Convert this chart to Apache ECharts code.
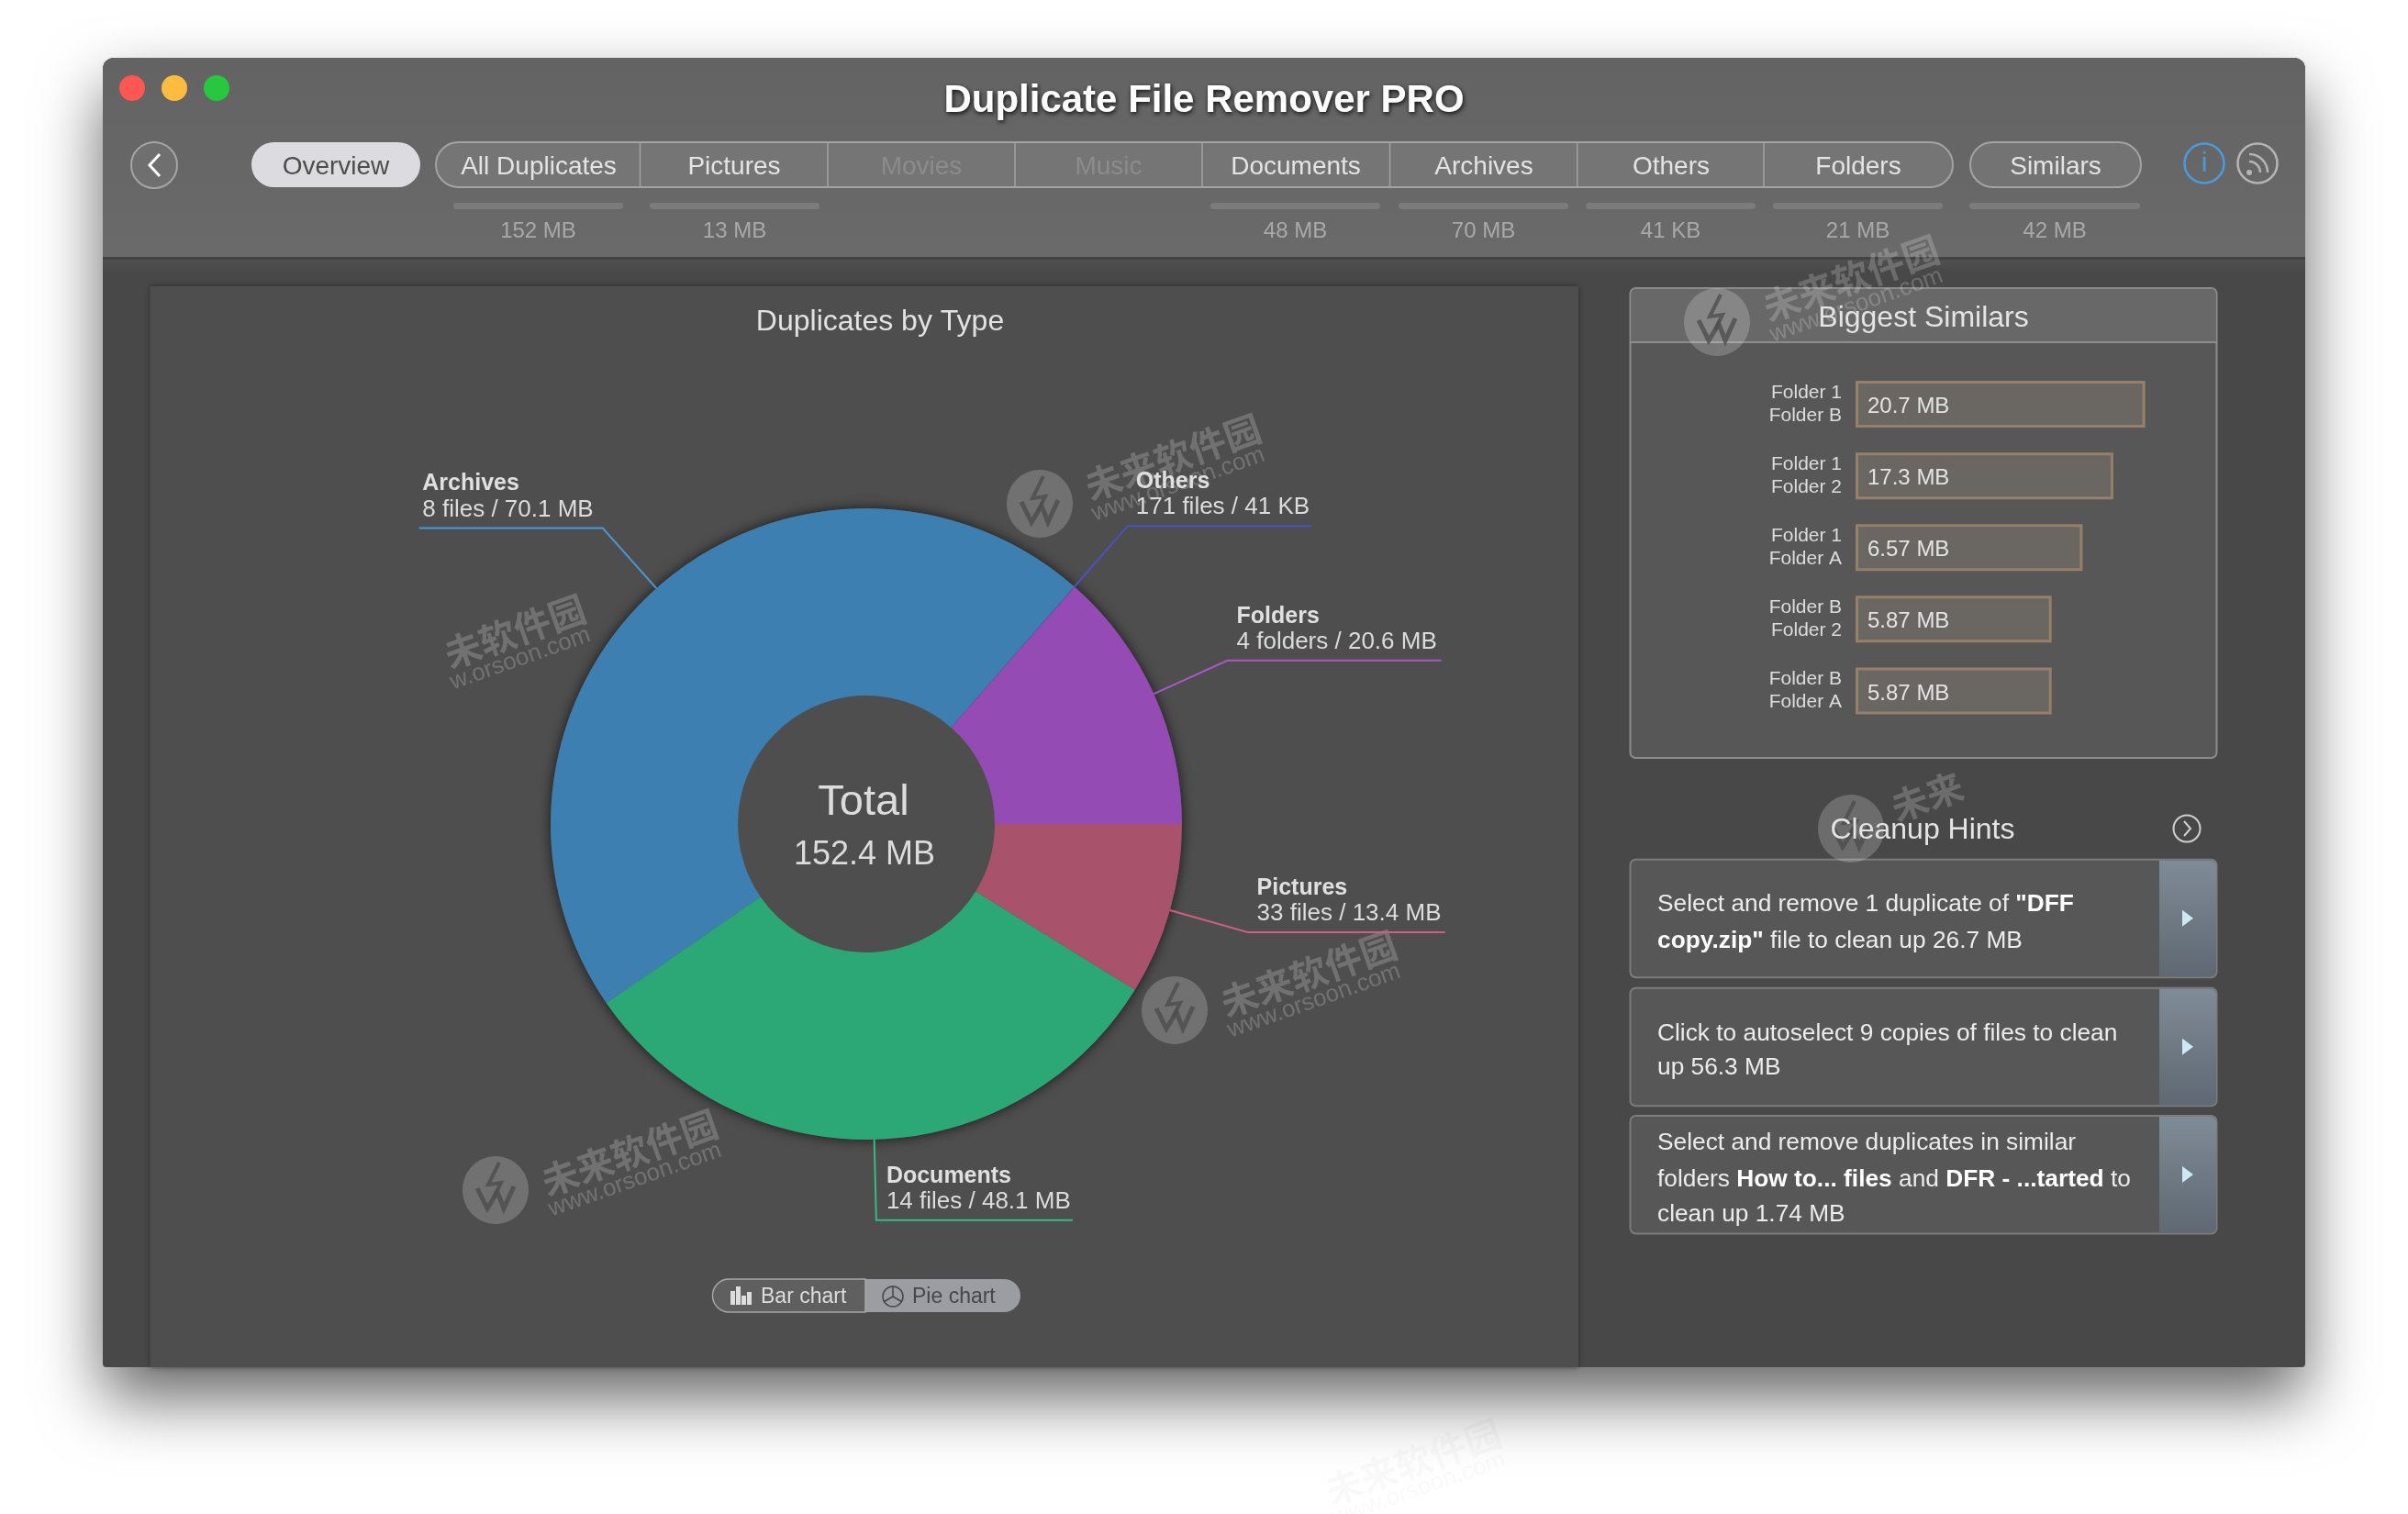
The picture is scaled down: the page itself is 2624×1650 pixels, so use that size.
<!DOCTYPE html>
<html>
<head>
<meta charset="utf-8">
<title>Duplicate File Remover PRO</title>
<script src="https://cdn.jsdelivr.net/npm/echarts@6/dist/echarts.min.js"></script>
<style>
html,body{margin:0;padding:0;background:#fff;}
#main{width:2624px;height:1650px;}
</style>
</head>
<body>
<div id="main"></div>
<script>
// pie: counter clockwise from east, same order as the app draws it
var typeNames = ['Folders', 'Others', 'Archives', 'Documents', 'Pictures'];
var typeSizes = [20.6, 0.041, 70.1, 48.1, 13.4];
var typeDetails = ['4 folders / 20.6 MB', '171 files / 41 KB', '8 files / 70.1 MB', '14 files / 48.1 MB', '33 files / 13.4 MB'];

// biggest similars, bar length is relative to the longest bar (not proportional to MB in the app)
var similarPairs = ['Folder 1\nFolder B', 'Folder 1\nFolder 2', 'Folder 1\nFolder A', 'Folder B\nFolder 2', 'Folder B\nFolder A'];
var similarSizes = ['20.7 MB', '17.3 MB', '6.57 MB', '5.87 MB', '5.87 MB'];
var similarBarLengths = [100, 89, 78.4, 67.7, 67.7];

// toolbar
var tabNames = ['All Duplicates', 'Pictures', 'Movies', 'Music', 'Documents', 'Archives', 'Others', 'Folders'];
var tabSizes = ['152 MB', '13 MB', '', '', '48 MB', '70 MB', '41 KB', '21 MB'];
var similarsSize = '42 MB';

var hintLines = [
	['Select and remove 1 duplicate of {b|"DFF}', '{b|copy.zip"} file to clean up 26.7 MB'],
	['Click to autoselect 9 copies of files to clean', 'up 56.3 MB'],
	['Select and remove duplicates in similar', 'folders {b|How to... files} and {b|DFR - ...tarted} to', 'clean up 1.74 MB']
];

// colours and leader lines, same order as typeNames
var typeColors = ['#944bb3', '#4b4fc0', '#3e7fb1', '#2ca876', '#a8526b'];
var leaderColors = ['#a858c8', '#4b52c8', '#4a9ad8', '#36bb86', '#cf5f80'];
var leaderLengths = [233, 200, 200, 214, 215];
var leaderTextGaps = [-223, -191, -190, -203, -205];

var FONT = '"Liberation Sans", Arial, sans-serif';
var g = [];

function rect(x, y, w, h, fill, extra) {
	var style = {fill: fill};
	var e = extra || {};
	for (var k in e) { if (k != 'r' && k != 'z') style[k] = e[k]; }
	g.push({type: 'rect', z: e.z || 0, silent: true, shape: {x: x, y: y, width: w, height: h, r: e.r || 0}, style: style});
}
function text(x, y, str, size, color, extra) {
	var style = {text: str, x: x, y: y, fill: color, font: (extra && extra.weight || 'normal') + ' ' + size + 'px ' + FONT,
		textAlign: 'center', textVerticalAlign: 'middle'};
	var e = extra || {};
	for (var k in e) { if (k != 'weight' && k != 'z' && k != 'rotation') style[k] = e[k]; }
	g.push({type: 'text', z: e.z || 1, silent: true, x: 0, y: 0, style: style});
}
function circle(cx, cy, r, fill, stroke, lw, z) {
	g.push({type: 'circle', z: z || 1, silent: true, shape: {cx: cx, cy: cy, r: r}, style: {fill: fill, stroke: stroke, lineWidth: lw || 0}});
}
function line(pts, stroke, lw, z) {
	g.push({type: 'polyline', z: z || 1, silent: true, shape: {points: pts}, style: {stroke: stroke, lineWidth: lw, fill: null}});
}
function poly(pts, fill, z) {
	g.push({type: 'polygon', z: z || 1, silent: true, shape: {points: pts}, style: {fill: fill}});
}
function vgrad(a, b) {
	return new echarts.graphic.LinearGradient(0, 0, 0, 1, [{offset: 0, color: a}, {offset: 1, color: b}]);
}

// window
rect(112, 63, 2400, 1427, '#484848', {r: [12, 12, 4, 4], shadowBlur: 70, shadowOffsetY: 34, shadowColor: 'rgba(0,0,0,0.6)'});
rect(112, 63, 2400, 217, vgrad('#636363', '#6a6a6a'), {r: [12, 12, 0, 0]});
rect(112, 280, 2400, 3, '#434343');
rect(112, 283, 2400, 12, vgrad('#505050', '#484848'));

// traffic lights and title
circle(144, 96, 14, '#fc5753');
circle(190, 96, 14, '#fdbc40');
circle(236, 96, 14, '#27c840');
text(1312, 110, 'Duplicate File Remover PRO', 42, '#ffffff', {weight: 'bold', textShadowColor: 'rgba(0,0,0,0.85)', textShadowBlur: 5, textShadowOffsetX: 1, textShadowOffsetY: 2});

// back button
g.push({type: 'ellipse', z: 1, silent: true, shape: {cx: 168, cy: 180, rx: 25, ry: 25}, style: {fill: '#6f6f6f', stroke: '#a5a5a5', lineWidth: 2}});
line([[174, 168], [163, 180], [174, 192]], '#ffffff', 3);

// overview + segmented tabs
rect(274, 155, 184, 49, '#dcdce0', {r: 24.5, z: 1});
text(366, 182, 'Overview', 28, '#4c4c4c');
rect(475, 155, 1653, 49, '#757575', {r: 24.5, stroke: '#a3a3a3', lineWidth: 2, z: 1});
var tabCenters = [587, 800, 1004, 1208, 1412, 1617, 1821, 2025];
var tabDividers = [697.5, 902, 1106, 1310, 1514.5, 1718.7, 1922];
for (var i = 0; i < tabDividers.length; i++) {
	line([[tabDividers[i], 155], [tabDividers[i], 204]], '#a3a3a3', 1.5, 2);
}
for (var i = 0; i < tabNames.length; i++) {
	var dim = tabSizes[i] === '';
	text(tabCenters[i], 182, tabNames[i], 28, dim ? '#8c8c8c' : '#e4e4e4', {z: 3});
	if (!dim) {
		var bx = i === 0 ? 494 : i === 1 ? 708 : tabCenters[i] - 93;
		rect(bx, 221, 185, 7, '#7b7b7b', {r: 3.5, z: 1});
		text(bx + 92.5, 252, tabSizes[i], 24, '#a9a9a9');
	}
}
rect(2147, 155, 186, 49, '#737373', {r: 24.5, stroke: '#a3a3a3', lineWidth: 2, z: 1});
text(2240, 182, 'Similars', 28, '#e4e4e4', {z: 3});
rect(2146, 221, 186, 7, '#7b7b7b', {r: 3.5, z: 1});
text(2239, 252, similarsSize, 24, '#a9a9a9');

// info + rss
circle(2402, 178, 21.5, 'rgba(0,0,0,0)', '#4a9ae0', 2.5);
text(2402, 179, 'i', 30, '#4a9ae0');
circle(2460, 178, 21.5, 'rgba(0,0,0,0)', '#b5b5b5', 2.5);
circle(2451, 188, 3, '#b5b5b5');
g.push({type: 'arc', z: 1, silent: true, shape: {cx: 2451, cy: 188, r: 12, startAngle: -Math.PI / 2, endAngle: 0}, style: {stroke: '#b5b5b5', lineWidth: 2.5, fill: null}});
g.push({type: 'arc', z: 1, silent: true, shape: {cx: 2451, cy: 188, r: 20, startAngle: -Math.PI / 2, endAngle: 0}, style: {stroke: '#b5b5b5', lineWidth: 2.5, fill: null}});

// left panel
rect(163.5, 312, 1556.5, 1178, '#4e4e4e', {shadowBlur: 6, shadowColor: 'rgba(0,0,0,0.45)', z: 1});
text(959, 351, 'Duplicates by Type', 32, '#e2e2e2', {z: 2});

// shadow ring under the donut
circle(944, 898, 344, '#4e4e4e', null, 0, 1);
g[g.length - 1].style.shadowBlur = 14;
g[g.length - 1].style.shadowColor = 'rgba(0,0,0,0.7)';

// total in the hole, above the pie
text(941, 875, 'Total', 47, '#dcdcdc', {z: 20});
text(942, 932, '152.4 MB', 36, '#dcdcdc', {z: 20});

// chart type toggle
rect(943, 1394, 169, 36, '#9c9da3', {r: [0, 18, 18, 0], z: 2});
rect(776.5, 1394, 166.5, 36, '#5f5f5f', {r: [18, 0, 0, 18], stroke: '#a8a8a8', lineWidth: 1.5, z: 2});
rect(796, 1407, 5, 15, '#dddddd', {z: 3});
rect(802, 1402, 5, 20, '#dddddd', {z: 3});
rect(808, 1412, 5, 10, '#dddddd', {z: 3});
rect(814, 1408, 5, 14, '#dddddd', {z: 3});
text(829, 1414, 'Bar chart', 23, '#dddddd', {textAlign: 'left', z: 3});
circle(973, 1413, 11, 'rgba(0,0,0,0)', '#44464a', 1.5, 3);
line([[973, 1402], [973, 1413], [963.5, 1418.5]], '#44464a', 1.5, 3);
line([[973, 1413], [982.5, 1418.5]], '#44464a', 1.5, 3);
text(994, 1414, 'Pie chart', 23, '#46474c', {textAlign: 'left', z: 3});

// biggest similars panel
rect(1776.5, 314, 639, 512, '#575757', {r: 6, stroke: '#8c8c8c', lineWidth: 2, z: 1});
rect(1777.5, 315, 637, 58, '#686868', {r: [6, 6, 0, 0], z: 1});
line([[1776.5, 373], [2415.5, 373]], '#9c9c9c', 1.5, 1);
text(2096, 347, 'Biggest Similars', 32, '#e4e4e4', {z: 3});

// cleanup hints
text(2095, 905, 'Cleanup Hints', 32, '#e4e4e4', {z: 3});
circle(2383, 903, 14.5, 'rgba(0,0,0,0)', '#d0d0d0', 2);
line([[2380, 895], [2387, 903], [2380, 911]], '#d0d0d0', 2);

var cardTops = [936.7, 1076.7, 1216];
var lineCenters = [[986, 1026], [1127, 1164], [1246, 1286, 1324]];
for (var i = 0; i < cardTops.length; i++) {
	var cardY = cardTops[i];
	rect(1776.5, cardY, 639, 128.5, '#575757', {r: 6, stroke: '#7c7c7c', lineWidth: 2, z: 1});
	rect(2353, cardY + 1, 62, 126.5, vgrad('#7f8b96', '#5f6873'), {r: [0, 6, 6, 0], z: 2});
	var my = cardY + 64;
	poly([[2378, my - 9], [2390, my], [2378, my + 9]], '#cfe8f5', 3);
	for (var j = 0; j < hintLines[i].length; j++) {
		g.push({type: 'text', z: 3, silent: true, style: {
			text: hintLines[i][j], x: 1806, y: lineCenters[i][j], fill: '#ececec',
			font: '26.3px ' + FONT, textAlign: 'left', textVerticalAlign: 'middle',
			rich: {b: {font: 'bold 26.3px ' + FONT, fill: '#ffffff'}}
		}});
	}
}

// site watermark stamped across the screenshot, under the app text
function stamp(x, y, main, sub, logo, c) {
	c = c || 'rgba(255,255,255,0.2)';
	if (main) g.push({type: 'text', z: 2.5, silent: true, x: x, y: y - 2, rotation: 0.34, style: {text: main, fill: c,
		font: 'bold 40px "Noto Sans CJK SC"', textAlign: 'center', textVerticalAlign: 'middle'}});
	if (sub) g.push({type: 'text', z: 2.5, silent: true, x: x + 6, y: y + 28, rotation: 0.34, style: {text: sub, fill: c,
		font: '26px ' + FONT, textAlign: 'center', textVerticalAlign: 'middle'}});
	if (logo) {
		g.push({type: 'ellipse', z: 2.5, silent: true, shape: {cx: logo[0], cy: logo[1], rx: 36, ry: 37}, style: {fill: c}});
		g.push({type: 'polyline', z: 2.5, silent: true, shape: {points: [[logo[0] - 20, logo[1] - 2], [logo[0] - 9, logo[1] + 20], [logo[0] + 2, logo[1] + 2], [logo[0] + 9, logo[1] + 20], [logo[0] + 20, logo[1] - 4]]},
			style: {stroke: 'rgba(78,78,78,0.8)', lineWidth: 5, fill: null}});
		g.push({type: 'polyline', z: 2.5, silent: true, shape: {points: [[logo[0] + 4, logo[1] - 30], [logo[0] - 8, logo[1] - 6], [logo[0] + 6, logo[1] - 8], [logo[0] - 2, logo[1] + 8]]},
			style: {stroke: 'rgba(78,78,78,0.8)', lineWidth: 4, fill: null}});
	}
}
stamp(1278, 500, '未来软件园', 'www.orsoon.com', [1133, 549]);
stamp(561, 690, '未软件园', 'w.orsoon.com', null);
stamp(1426, 1063, '未来软件园', 'www.orsoon.com', [1280, 1101]);
stamp(686, 1258, '未来软件园', 'www.orsoon.com', [540, 1297]);
stamp(2017, 305, '未来软件园', 'www.orsoon.com', [1871, 351]);
stamp(2100, 870, '未来', null, [2017, 903]);
stamp(1540, 1595, '未来软件园', 'www.orsoon.com', null, 'rgba(0,0,0,0.025)');

var pieData = typeNames.map(function (name, i) {
	return {
		name: name,
		value: typeSizes[i],
		itemStyle: {color: typeColors[i]},
		labelLine: {length2: leaderLengths[i], lineStyle: {color: leaderColors[i], width: 2}},
		label: {distanceToLabelLine: leaderTextGaps[i]}
	};
});

var myChart = echarts.init(document.getElementById('main'), null, {renderer: 'canvas', devicePixelRatio: 1});
var option = {
	animation: false,
	backgroundColor: '#ffffff',
	graphic: {elements: g},
	grid: {left: 2022, top: 401.5, width: 315.6, height: 390.5},
	xAxis: {type: 'value', min: 0, max: 100, show: false},
	yAxis: {
		type: 'category', inverse: true, data: similarPairs, z: 5,
		axisLine: {show: false}, axisTick: {show: false}, splitLine: {show: false},
		axisLabel: {margin: 15, fontFamily: FONT, fontSize: 21, lineHeight: 25, color: '#dcdcdc', align: 'right'}
	},
	series: [{
		type: 'pie',
		silent: true,
		z: 3,
		radius: [140, 344],
		center: [944, 898],
		startAngle: 0,
		clockwise: false,
		avoidLabelOverlap: false,
		minShowLabelAngle: 0,
		data: pieData,
		label: {
			show: true,
			position: 'outside',
			padding: [0, 0, 68, 0],
			formatter: function (p) {
				return '{n|' + p.name + '}\n{d|' + typeDetails[p.dataIndex] + '}';
			},
			rich: {
				n: {fontFamily: FONT, fontWeight: 'bold', fontSize: 25, lineHeight: 28, color: '#e0e0e0', align: 'left'},
				d: {fontFamily: FONT, fontSize: 26, lineHeight: 28, color: '#dcdcdc', align: 'left'}
			}
		},
		labelLine: {show: true, length: 88, minTurnAngle: 0, maxSurfaceAngle: 180}
	}, {
		type: 'bar',
		silent: true,
		z: 3,
		data: similarBarLengths,
		barWidth: 51,
		itemStyle: {color: '#6a6763', borderColor: '#978068', borderWidth: 3},
		label: {
			show: true, position: 'insideLeft', distance: 13, offset: [0, 3],
			fontFamily: FONT, fontSize: 24, color: '#e4e4e4',
			formatter: function (p) { return similarSizes[p.dataIndex]; }
		}
	}]
};
myChart.setOption(option);
</script>
</body>
</html>
